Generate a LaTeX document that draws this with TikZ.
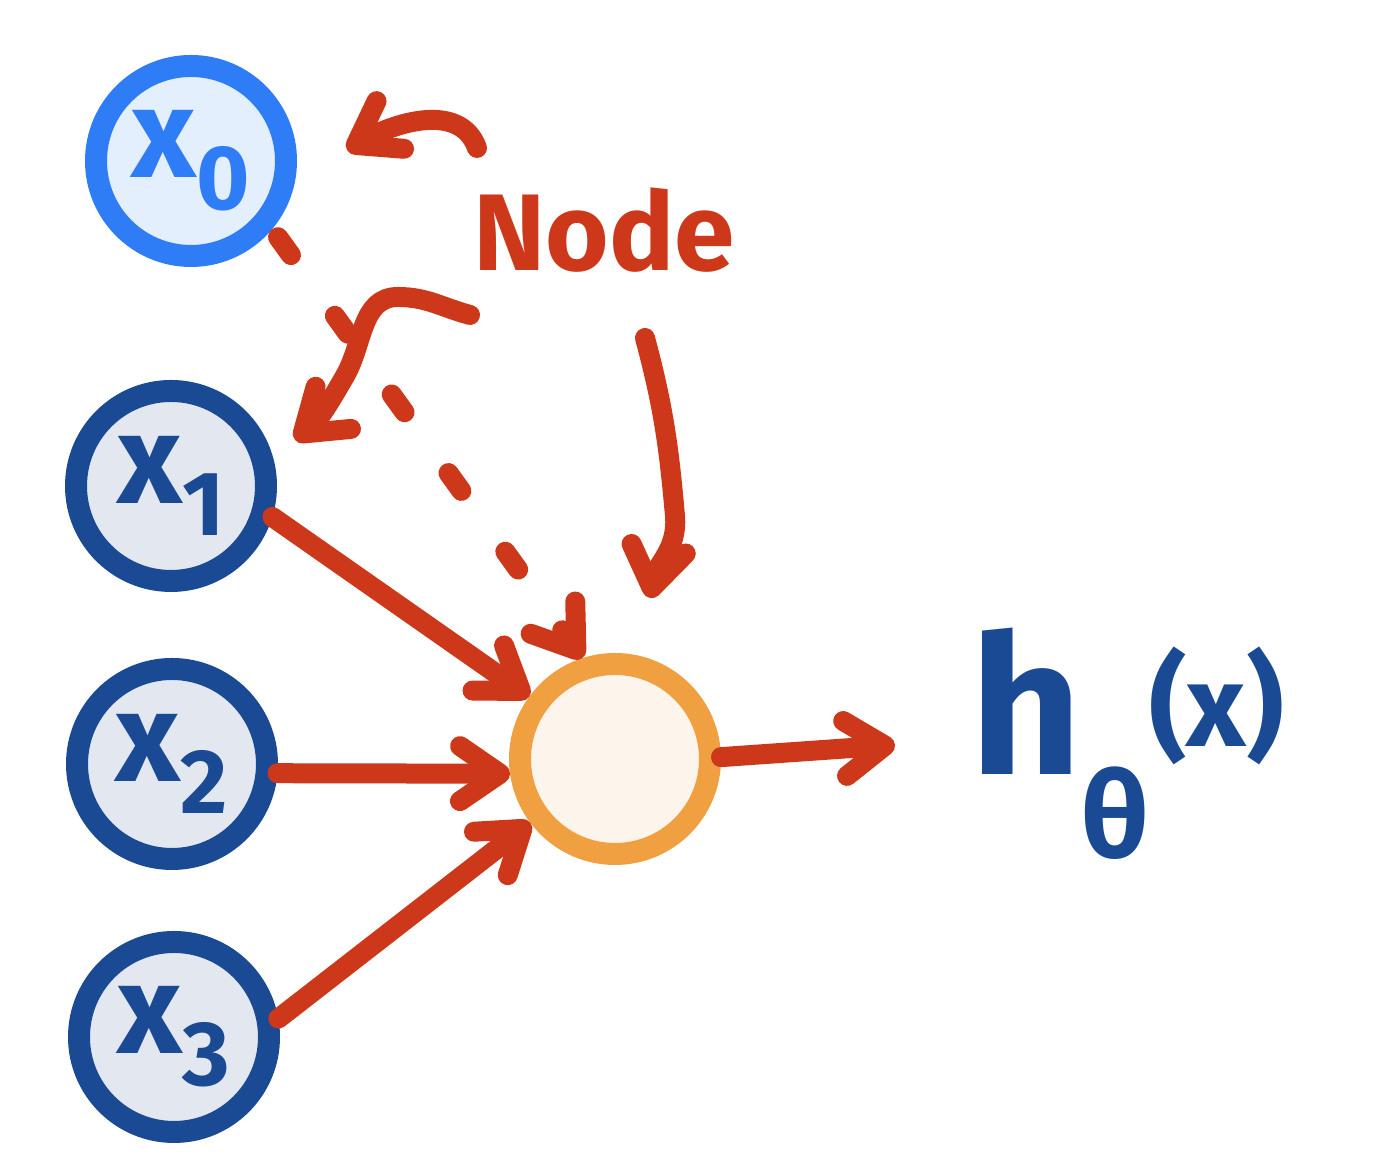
\documentclass[tikz,border=0pt]{standalone}
\usepackage{fontspec}
\setmainfont{Fira Sans}
\usetikzlibrary{arrows.meta}

\definecolor{inkred}{RGB}{206,56,26}
\definecolor{biasblue}{RGB}{47,125,246}
\definecolor{biasfill}{RGB}{228,239,253}
\definecolor{inblue}{RGB}{26,74,148}
\definecolor{infill}{RGB}{227,232,240}
\definecolor{outorange}{RGB}{240,160,64}
\definecolor{outfill}{RGB}{253,245,235}

\newcommand{\xlab}[1]{x\raisebox{-0.25em}{\fontsize{26}{26}\selectfont #1}}

\tikzset{
  neuron/.style={circle, minimum size=1.9cm, line width=0.22cm, outer sep=0.11cm, inner sep=0pt,
    font=\fontsize{36}{36}\selectfont\bfseries},
  biasnode/.style={neuron, draw=biasblue, fill=biasfill, text=biasblue},
  innode/.style={neuron, draw=inblue, fill=infill, text=inblue},
  outnode/.style={neuron, draw=outorange, fill=outfill},
  wire/.style={draw=inkred, line width=0.2cm, line cap=round, line join=round,
    -{Straight Barb[length=4mm,width=5.5mm,round]}},
}

\begin{document}
\begin{tikzpicture}
\useasboundingbox (0,0) rectangle (13.94,11.76);

% Inputs
\node[biasnode] (x0) at (1.91,10.15) {\xlab{0}};
\node[innode] (x1) at (1.71,6.90) {\xlab{1}};
\node[innode] (x2) at (1.72,4.12) {\xlab{2}};
\node[innode] (x3) at (1.74,1.39) {\xlab{3}};

% Output node and hypothesis
\node[outnode] (o) at (6.15,4.17) {};
\coordinate (hx) at (8.95,4.31);
\node[anchor=base west, text=inblue, font=\fontsize{55}{55}\selectfont\bfseries] (h) at (9.58,4.01)
  {h\raisebox{-0.83cm}{\fontsize{34}{34}\selectfont θ}\raisebox{0.28cm}{\fontsize{33}{33}\selectfont (x)}};

% Weights
\draw[wire] (x1.-17) -- (o.144);
\draw[wire] (x2.-5) -- (o.188);
\draw[wire] (x3.10) -- (o.217);
\draw[wire, dash pattern=on 0.22cm off 0.75cm, shorten <=0.1cm] (x0.-40) -- (o.108);
\draw[wire] (o.1) -- (hx);

% Node label with pointers
\node[text=inkred, font=\fontsize{31}{31}\selectfont\bfseries] (lbl) at (6.04,9.46) {Node};
\coordinate (a0) at (4.77,10.28);
\coordinate (t0) at (3.47,10.26);
\coordinate (a1) at (4.70,8.61);
\coordinate (t1) at (2.95,7.36);
\coordinate (a2) at (6.45,8.38);
\coordinate (t2) at (6.50,5.78);
\draw[wire] (a0) to[out=110,in=30] (t0);
\draw[wire] (a1) to[out=165,in=0] (3.98,8.79) to[out=180,in=60] (3.45,8.0) to[out=-120,in=40] (t1);
\draw[wire] (a2) to[out=-75,in=95] (6.75,6.6) to[out=-85,in=80] (t2);

\end{tikzpicture}
\end{document}
